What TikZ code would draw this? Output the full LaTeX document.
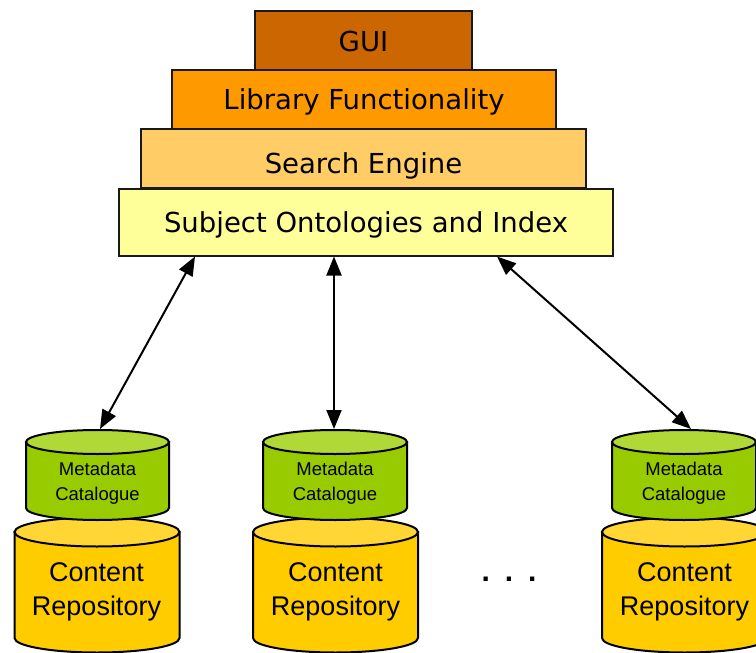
\documentclass[tikz,border=0pt]{standalone}
\usepackage{fontspec}
\setmainfont{Liberation Sans}
\newfontfamily\boxfont{DejaVu Sans}
\usetikzlibrary{arrows.meta,calc}
\definecolor{guicol}{HTML}{CC6600}
\definecolor{libcol}{HTML}{FF9900}
\definecolor{searchcol}{HTML}{FFCC66}
\definecolor{subjcol}{HTML}{FFFF99}
\definecolor{greenbody}{HTML}{99CC00}
\definecolor{greentop}{HTML}{B0D836}
\definecolor{yellowbody}{HTML}{FFCC00}
\definecolor{yellowtop}{HTML}{FFD633}
\newcommand{\mycyl}[7]{%
  \filldraw[line width=2pt, fill=#7] (#1-#4,#2) -- (#1-#4,#3)
    arc[start angle=180, end angle=0, x radius=#4, y radius=#5] -- (#1+#4,#2) -- cycle;
  \filldraw[line width=2pt, fill=#6] (#1,#2) ellipse[x radius=#4, y radius=#5];
}
\begin{document}
\begin{tikzpicture}[x=1pt,y=-1pt,
  layer/.style={draw=black!90, line width=2pt, fill=#1, inner sep=0pt,
    font=\boxfont\fontsize{27.5}{33}\selectfont, text height=20pt, text depth=0pt},
  metatext/.style={align=center, inner sep=0pt, font=\fontsize{18.5}{25}\selectfont},
  repotext/.style={align=center, inner sep=0pt, font=\fontsize{27}{34}\selectfont},
  dbl/.style={line width=2pt, {Triangle[length=19pt,width=15pt]}-{Triangle[length=19pt,width=15pt]}}
]
\clip (0,0) rectangle (756,653);
\fill[white] (0,0) rectangle (756,653);

% layered stack
\node[layer=subjcol, minimum width=494pt, minimum height=67pt] (subj) at (366,222) {Subject Ontologies and Index};
\node[layer=searchcol, minimum width=445pt, minimum height=59pt, text height=29pt] (search) at (363.5,158.5) {Search Engine};
\node[layer=libcol, minimum width=384pt, minimum height=59pt] (lib) at (364,99.5) {Library Functionality};
\node[layer=guicol, minimum width=217pt, minimum height=59pt, text height=23pt] (gui) at (363.5,40.5) {GUI};

% cylinders: yellow content repositories, then green catalogues
\mycyl{97}{532}{638}{82.5}{14.5}{yellowtop}{yellowbody}
\mycyl{335.5}{532}{638}{82.5}{14.5}{yellowtop}{yellowbody}
\mycyl{684.5}{532}{638}{82.5}{14.5}{yellowtop}{yellowbody}
\mycyl{97.5}{442}{508}{71.5}{12}{greentop}{greenbody}
\mycyl{335}{442}{508}{72}{12}{greentop}{greenbody}
\mycyl{684}{442}{508}{72}{12}{greentop}{greenbody}

\node[metatext] (meta1) at (97.5,483) {Metadata\\Catalogue};
\node[metatext] (meta2) at (335,483) {Metadata\\Catalogue};
\node[metatext] (meta3) at (684,483) {Metadata\\Catalogue};
\node[repotext] (repo1) at (96.5,592) {Content\\Repository};
\node[repotext] (repo2) at (335.5,592) {Content\\Repository};
\node[repotext] (repo3) at (684.5,592) {Content\\Repository};
\node[anchor=base, inner sep=0pt, font=\bfseries\fontsize{30}{33}\selectfont] (dots) at (509,581) {.\kern15pt.\kern15pt.};

% connectors
\coordinate (c1) at (100,429);
\coordinate (c2) at (334,429);
\coordinate (c3) at (691,429);
\draw[dbl] ([xshift=77pt]subj.south west) -- (c1);
\draw[dbl] (subj.south -| c2) -- (c2);
\draw[dbl] ([xshift=-117pt]subj.south east) -- (c3);
\end{tikzpicture}
\end{document}
